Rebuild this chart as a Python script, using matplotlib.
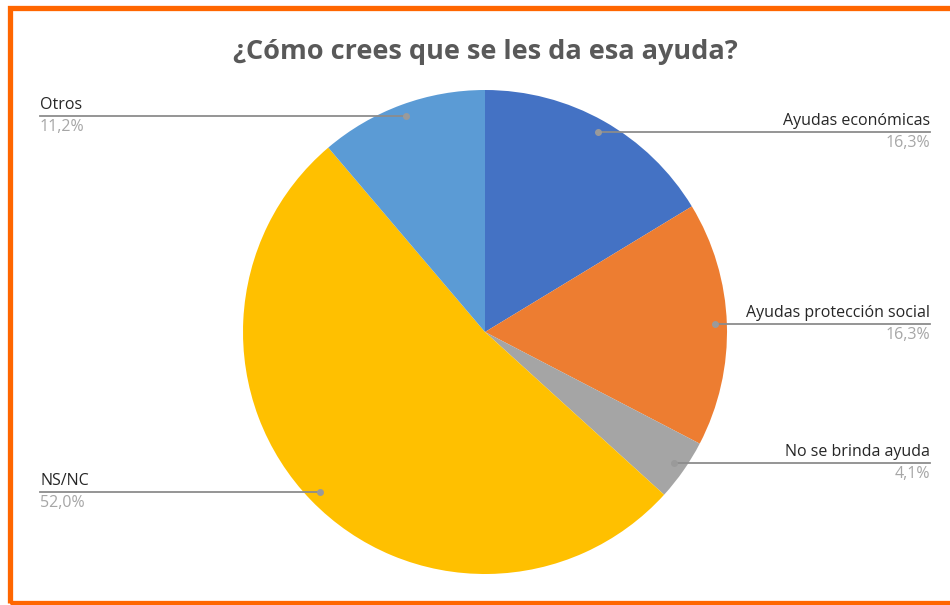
import numpy as np
import matplotlib

matplotlib.use("Agg")
import matplotlib.pyplot as plt
from matplotlib.patches import Rectangle

TITLE = "¿Cómo crees que se les da esa ayuda?"
labels = ["Ayudas económicas", "Ayudas protección social", "No se brinda ayuda",
          "NS/NC", "Otros"]
values = [16.3, 16.3, 4.1, 52.0, 11.2]
pct_text = ["16,3%", "16,3%", "4,1%", "52,0%", "11,2%"]
colors = ["#4472C4", "#ED7D31", "#A5A5A5", "#FFC000", "#5B9BD5"]

W, H = 950, 605
fig = plt.figure(figsize=(W / 100, H / 100), dpi=100)
ax = fig.add_axes([0, 0, 1, 1])

cx, cy, R = 485, H - 332, 242
wedges, _ = ax.pie(values, colors=colors, startangle=90, counterclock=False,
                   center=(cx, cy), radius=R, frame=True,
                   wedgeprops=dict(linewidth=0))
ax.set_xlim(0, W)
ax.set_ylim(0, H)
ax.set_aspect("equal")
ax.axis("off")

font = "Open Sans"
for w, lab, pct in zip(wedges, labels, pct_text):
    # dot sits inside the slice, leader line runs out to the label edge
    mid = np.deg2rad((w.theta1 + w.theta2) / 2)
    dx, dy = cx + 0.95 * R * np.cos(mid), cy + 0.95 * R * np.sin(mid)
    if dx > cx:
        xe, ha = 930, "right"
    else:
        xe, ha = 40, "left"
    ax.plot([dx, xe], [dy, dy], color="#8c8c8c", lw=1.3, zorder=3)
    ax.plot(dx, dy, "o", color="#9a9a9a", ms=4, zorder=4)
    ax.text(xe, dy + 3, lab, ha=ha, va="bottom", fontsize=11.5,
            color="#262626", family=font)
    ax.text(xe, dy - 3, pct, ha=ha, va="top", fontsize=11.5,
            color="#a6a6a6", family=font)

ax.text(cx, H - 52, TITLE, ha="center", va="center", fontsize=19.5,
        fontweight="bold", color="#595959", family=font)

ax.add_patch(Rectangle((9.5, 2.5), 1000, 595, fill=False,
                       edgecolor="#FF6600", lw=3.8, clip_on=False, zorder=5))

fig.savefig("out.png", dpi=100)
